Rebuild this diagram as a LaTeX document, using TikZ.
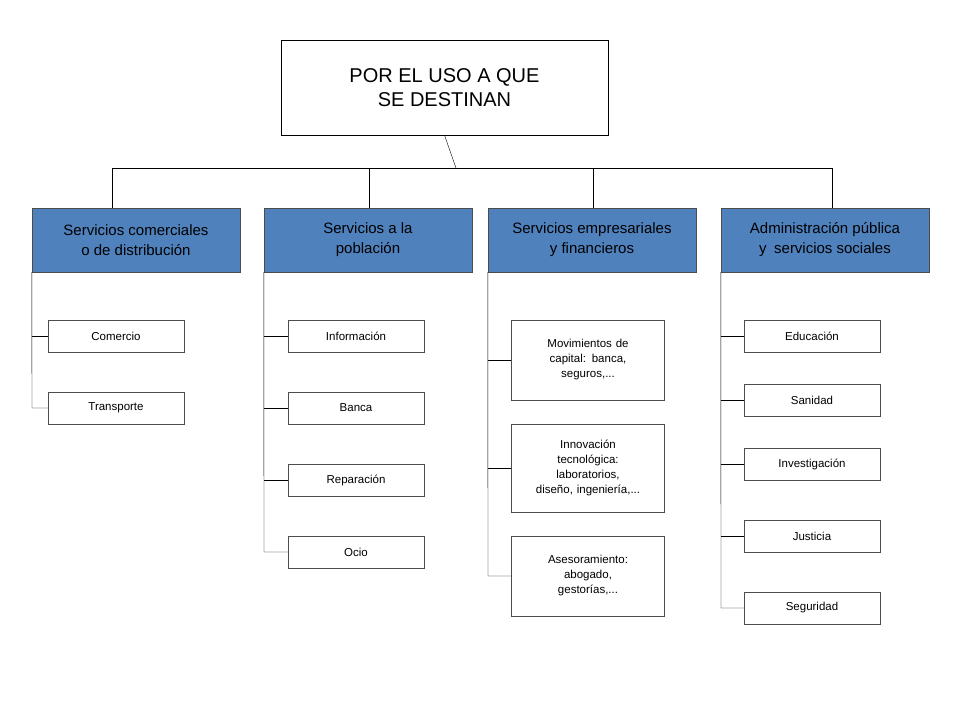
\documentclass[tikz,border=0pt]{standalone}
\usepackage{fontspec}
\setmainfont{Liberation Sans}
\usetikzlibrary{positioning}
\definecolor{headblue}{RGB}{79,129,189}
\begin{document}
\begin{tikzpicture}[%
    x=1pt, y=-1pt,
topnode/.style={rectangle, draw=black, align=center, minimum width=327pt, minimum height=95pt, font=\fontsize{20}{24}\selectfont},
headnode/.style={rectangle, draw=black!70, fill=headblue, align=center, minimum width=208pt, minimum height=64pt, font=\fontsize{15}{20}\selectfont},
leafnode/.style={rectangle, draw=black!70, align=center, minimum width=136pt, minimum height=32pt, font=\fontsize{11.5}{15}\selectfont},
bignode/.style={rectangle, draw=black!70, align=center, minimum width=152pt, text width=146pt, font=\fontsize{11.5}{15}\selectfont},
]
\useasboundingbox (0,0) rectangle (960,720);

% Title
\node[topnode] (root) at (444.5,87.5) {POR EL USO A QUE\\ SE DESTINAN};
\coordinate (bus) at (456,168);

% Headers
\node[headnode] (comercial) at (136,240) {Servicios comerciales\\o de distribución};
\node[headnode] (poblacion) at (368,240) {Servicios a la\\población};
\node[headnode] (empresas) at (592,240) {Servicios empresariales\\y financieros};
\node[headnode] (publica) at (825,240) {Administración pública\\y\enspace servicios sociales};

% Header lines
\draw (root.south) -- (bus);
\draw (112,208) -- (112,168) -- (832,168) -- (832,208);
\draw (369,168) -- (369,208);
\draw (593,168) -- (593,208);

% Column 1
\node[leafnode] (comercio) at (116,336) {Comercio};
\node[leafnode] (transporte) at (116,408) {Transporte};
\draw (comercial.south west) -- (32,408) -- (transporte.west);
\draw (32,336) -- (comercio.west);

% Column 2
\node[leafnode] (informacion) at (356,336) {Información};
\node[leafnode] (banca) at (356,408) {Banca};
\node[leafnode] (reparacion) at (356,480) {Reparación};
\node[leafnode] (ocio) at (356,552) {Ocio};
\draw (poblacion.south west) -- (264,552) -- (ocio.west);
\foreach \n in {informacion,banca,reparacion}
  \draw (264,0 |- \n.west) -- (\n.west);

% Column 3
\node[bignode, minimum height=80pt] (capital) at (588,360) {Movimientos de\\capital: banca,\\seguros,...};
\node[bignode, minimum height=88pt] (innovacion) at (588,468) {Innovación\\tecnológica:\\laboratorios,\\diseño, ingeniería,...};
\node[bignode, minimum height=80pt] (asesor) at (588,576) {Asesoramiento:\\abogado,\\gestorías,...};
\draw (empresas.south west) -- (488,576) -- (asesor.west);
\foreach \n in {capital,innovacion}
  \draw (488,0 |- \n.west) -- (\n.west);

% Column 4
\node[leafnode] (educacion) at (812,336) {Educación};
\node[leafnode] (sanidad) at (812,400) {Sanidad};
\node[leafnode] (investigacion) at (812,464) {Investigación};
\node[leafnode] (justicia) at (812,536) {Justicia};
\node[leafnode] (seguridad) at (812,608) {Seguridad};
\draw (publica.south west) -- (721,608) -- (seguridad.west);
\foreach \n in {educacion,sanidad,investigacion,justicia}
  \draw (721,0 |- \n.west) -- (\n.west);
\end{tikzpicture}
\end{document}
